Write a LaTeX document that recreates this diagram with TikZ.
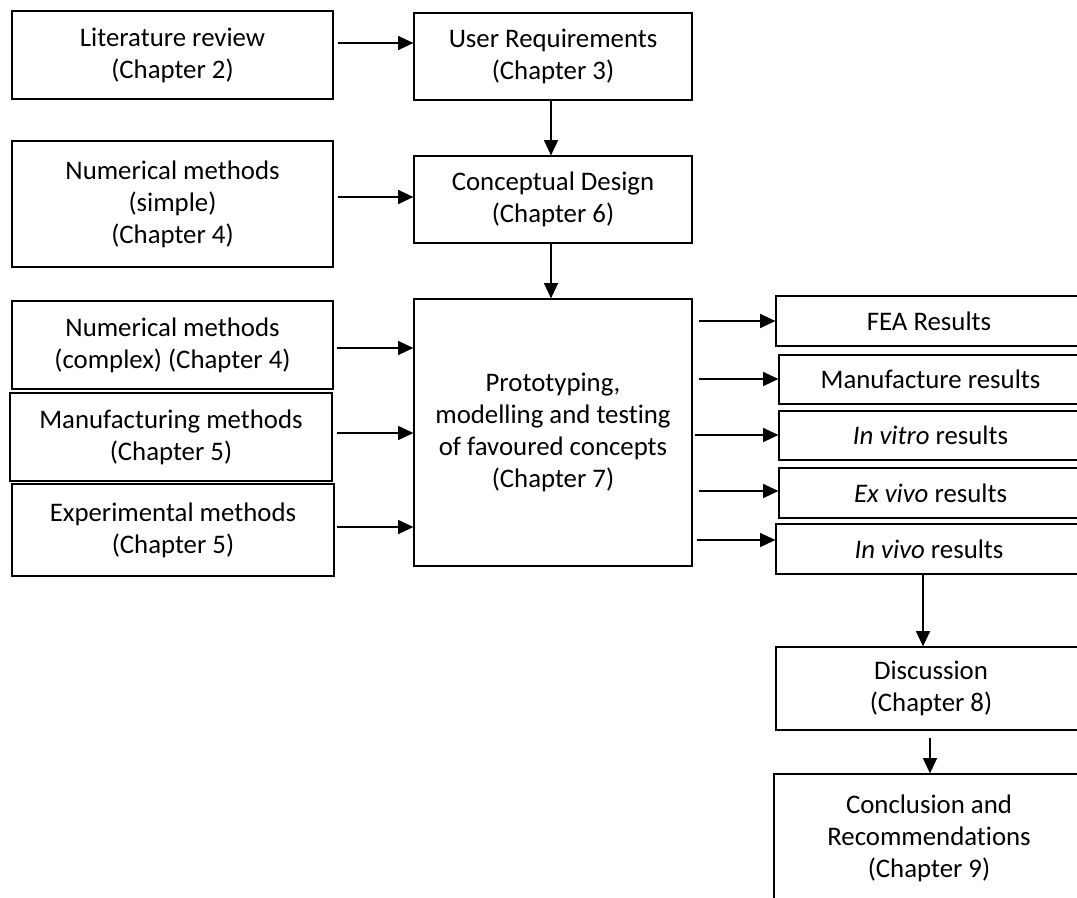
\documentclass[tikz,border=0pt]{standalone}
\usepackage{fontspec}
\setmainfont{Carlito}[Ligatures=NoCommon]
\usetikzlibrary{arrows.meta,calc}
\tikzset{
  box/.style={draw=black, line width=0.9pt, inner sep=0pt, align=center,
    font=\fontsize{20.1}{24}\selectfont},
  arr/.style={-{Triangle[length=11.5pt,width=10.5pt]}, line width=1.1pt}
}
\newcommand\mkbox[6]{\node[box, minimum width={#4*0.75pt}, minimum height={#5*0.75pt}] (#1) at (#2,#3) {#6};}
\begin{document}
\begin{tikzpicture}[x=0.75pt,y=-0.75pt]
\useasboundingbox (0,0) rectangle (1077,897);
\clip (0,0) rectangle (1077,897);
\mkbox{lit}{172.5}{55}{321}{88}{Literature review\\(Chapter 2)}
\mkbox{ur}{553}{56.5}{278}{87}{User Requirements\\(Chapter 3)}
\mkbox{nums}{172.5}{204}{321}{126}{Numerical methods\\(simple)\\(Chapter 4)}
\mkbox{cd}{553}{199.5}{278}{87}{Conceptual Design\\(Chapter 6)}
\mkbox{numc}{172.5}{345}{321}{88}{Numerical methods\\(complex) (Chapter 4)}
\mkbox{manu}{171}{437}{322}{88}{Manufacturing methods\\(Chapter 5)}
\mkbox{exp}{173}{530}{322}{92}{Experimental methods\\(Chapter 5)}
\mkbox{proto}{553}{432.5}{278}{267}{Prototyping,\\modelling and test\kern0pt ing\\of favoured concepts\\(Chapter 7)}
\mkbox{fea}{929}{321}{306}{50}{FEA Results}
\mkbox{manr}{930.5}{379.5}{303}{49}{Manufacture results}
\mkbox{vitro}{930.5}{435.5}{303}{49}{\textit{In vitro} results}
\mkbox{exvivo}{930.5}{493}{303}{50}{\textit{Ex vivo} results}
\mkbox{invivo}{929}{549}{306}{50}{\textit{In vivo} results}
\mkbox{disc}{931}{688.5}{310}{83}{Discussion\\(Chapter 8)}
\mkbox{concl}{929}{838}{310}{128}{Conclusion and\\Recommendat\kern0pt ions\\(Chapter 9)}
% left to centre
\draw[arr] ($(lit.east |- 0,43)+(4,0)$) -- (ur.west |- 0,43);
\draw[arr] ($(nums.east |- 0,197)+(4,0)$) -- (cd.west |- 0,197);
\draw[arr] (ur.south -| 551,0) -- (cd.north -| 551,0);
\draw[arr] (cd.south -| 551,0) -- (proto.north -| 551,0);
\draw[arr] ($(numc.east |- 0,348)+(3,0)$) -- (proto.west |- 0,348);
\draw[arr] ($(manu.east |- 0,433)+(4,0)$) -- (proto.west |- 0,433);
\draw[arr] ($(exp.east |- 0,527)+(2,0)$) -- (proto.west |- 0,527);
% centre to right
\draw[arr] ($(proto.east |- 0,321)+(6,0)$) -- (fea.west |- 0,321);
\draw[arr] ($(proto.east |- 0,379)+(6,0)$) -- (manr.west |- 0,379);
\draw[arr] ($(proto.east |- 0,435)+(2,0)$) -- (vitro.west |- 0,435);
\draw[arr] ($(proto.east |- 0,491)+(6,0)$) -- (exvivo.west |- 0,491);
\draw[arr] ($(proto.east |- 0,540)+(4,0)$) -- (invivo.west |- 0,540);
% down the right
\draw[arr] (invivo.south -| 923,0) -- (disc.north -| 923,0);
\draw[arr] ($(disc.south -| 930,0)+(0,7)$) -- (concl.north -| 930,0);
\end{tikzpicture}
\end{document}
